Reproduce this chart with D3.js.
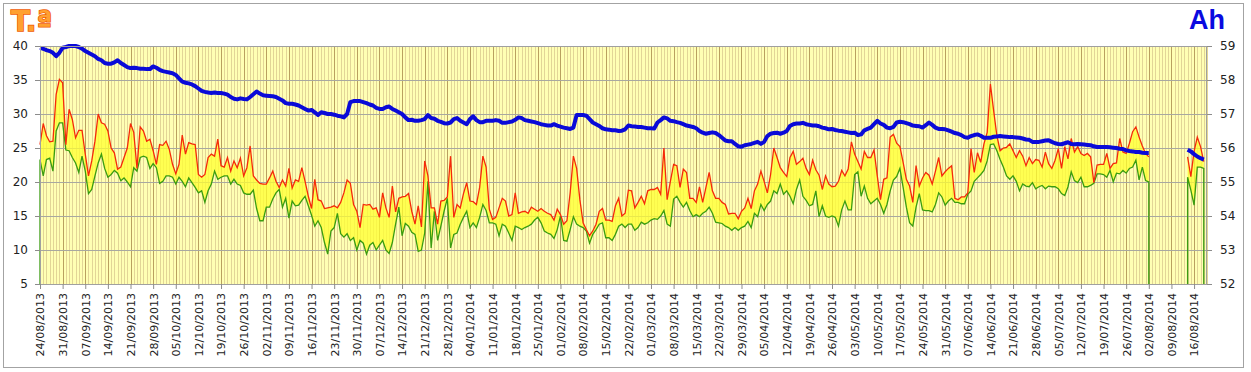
<!DOCTYPE html>
<html>
<head>
<meta charset="utf-8">
<script src="https://cdn.jsdelivr.net/npm/d3@7"></script>
<style>
  body { margin: 0; background: #fff; }
  svg { display: block; }
</style>
</head>
<body>
<svg id="chart"></svg>
<script>
// daily values from 24/08/2013 to 20/08/2014 (null = no reading)
const startDay = new Date(Date.UTC(2013, 7, 24));
const dayCount = 362;

const tMax = [
  25.5, 28.6, 26.8, 25.9, 26.0, 32.9, 35.1, 34.6, 25.5, 30.7,
  29.2, 26.5, 27.6, 27.6, 24.1, 20.9, 23.1, 26.0, 30.0, 28.7,
  28.5, 27.5, 25.0, 24.3, 21.9, 22.2, 23.6, 25.0, 28.6, 27.3,
  22.0, 28.1, 27.5, 26.0, 26.3, 24.6, 22.6, 25.5, 25.4, 26.0,
  24.8, 22.6, 21.2, 22.6, 26.9, 24.1, 25.8, 25.6, 25.5, 21.1,
  20.7, 21.1, 23.6, 24.1, 23.8, 26.3, 22.4, 22.2, 23.6, 21.6,
  23.1, 22.1, 23.5, 20.9, 22.1, 25.3, 20.9, 20.3, 19.8, 19.7,
  19.7, 20.6, 21.6, 20.1, 19.2, 20.3, 19.4, 22.0, 19.1, 20.3,
  20.1, 22.1, 20.1, 17.9, 16.1, 20.4, 17.4, 17.2, 16.1, 16.2,
  16.3, 16.5, 16.2, 17.0, 18.4, 20.3, 19.8, 16.7, 15.7, 13.3,
  16.7, 16.6, 16.7, 16.0, 16.2, 14.8, 18.4, 16.2, 14.8, 19.4,
  15.6, 17.6, 17.8, 17.9, 18.3, 15.7, 13.8, 16.5, 13.4, 23.1,
  20.9, 16.2, 16.2, 13.8, 17.2, 17.3, 17.8, 23.8, 14.8, 16.7,
  16.2, 18.3, 19.9, 17.2, 17.1, 16.7, 19.2, 23.8, 22.2, 16.0,
  14.5, 14.8, 16.2, 17.6, 17.2, 15.0, 15.2, 18.4, 15.4, 15.6,
  15.7, 15.4, 16.3, 16.0, 15.7, 16.1, 15.7, 15.4, 15.2, 14.4,
  16.0, 15.2, 13.8, 14.3, 18.4, 23.8, 22.0, 17.4, 14.0, 13.0,
  12.1, 12.8, 13.8, 15.7, 16.1, 14.4, 14.4, 14.2, 16.5, 17.6,
  15.0, 15.4, 18.8, 18.7, 16.2, 17.0, 17.9, 16.8, 18.7, 18.9,
  18.9, 19.2, 18.2, 25.0, 17.4, 20.1, 22.6, 22.4, 19.2, 21.9,
  21.4, 17.6, 17.6, 17.0, 19.3, 17.0, 19.2, 21.4, 18.7, 17.6,
  17.6, 17.0, 16.7, 15.3, 15.4, 15.4, 14.6, 15.7, 16.2, 17.6,
  16.1, 18.7, 19.7, 21.6, 20.1, 18.4, 21.1, 25.0, 23.6, 22.1,
  21.4, 20.8, 23.6, 24.5, 22.6, 23.0, 23.5, 22.0, 21.1, 23.2,
  21.8, 21.0, 18.9, 20.9, 19.7, 19.3, 19.4, 20.1, 21.7, 20.9,
  21.9, 25.9, 24.1, 23.0, 21.9, 24.5, 23.6, 23.6, 24.7, 20.9,
  17.4, 20.4, 20.6, 26.6, 27.0, 25.7, 25.2, 22.9, 20.4, 19.4,
  17.0, 22.4, 19.4, 20.6, 21.4, 21.0, 19.7, 21.6, 23.6, 20.9,
  21.5, 22.0, 22.4, 17.6, 17.4, 17.8, 17.8, 18.4, 24.9, 21.4,
  24.3, 22.9, 25.6, 27.3, 34.4, 30.5, 26.8, 24.6, 25.0, 25.1,
  25.6, 24.6, 23.6, 24.6, 23.8, 22.4, 23.6, 22.7, 23.3, 23.2,
  22.2, 24.4, 22.7, 22.0, 23.2, 24.9, 22.0, 25.2, 23.4, 26.4,
  24.4, 25.2, 24.2, 23.9, 24.2, 23.7, 19.9, 22.5, 22.6, 22.6,
  24.2, 22.0, 22.7, 22.8, 26.4, 24.4, 24.2, 25.7, 27.4, 28.1,
  26.6, 25.3, 24.2, 23.7,
  null, null, null, null, null, null, null, null, null, null, null,
  23.7, 20.8, 24.5, 26.6, 25.2, 23.0, null
];

const tMin = [
  23.3, 20.9, 23.3, 23.5, 21.6, 27.5, 28.7, 28.7, 24.7, 24.6,
  23.6, 22.8, 21.4, 23.8, 21.6, 18.3, 18.9, 20.9, 22.8, 24.1,
  22.0, 20.7, 21.1, 21.7, 21.3, 20.2, 20.6, 20.0, 19.3, 22.1,
  21.6, 23.6, 23.8, 23.6, 22.0, 22.7, 22.1, 19.8, 20.1, 20.9,
  20.9, 20.7, 19.7, 20.7, 20.1, 19.3, 20.6, 19.9, 19.2, 18.4,
  18.7, 17.0, 18.7, 19.7, 21.6, 20.4, 20.7, 20.9, 20.9, 19.7,
  20.4, 19.7, 19.5, 18.4, 18.2, 18.2, 18.8, 16.1, 14.3, 14.3,
  16.3, 16.3, 17.5, 18.4, 18.9, 16.3, 17.6, 14.7, 17.2, 16.5,
  16.6, 17.3, 17.9, 16.5, 15.1, 13.5, 14.3, 13.3, 11.1, 9.4,
  12.8, 13.3, 15.4, 12.4, 11.9, 12.4, 11.4, 11.8, 10.0, 11.4,
  11.0, 9.4, 10.7, 11.1, 10.0, 10.7, 11.4, 10.0, 9.5, 11.1,
  13.8, 16.3, 12.1, 13.9, 13.5, 12.6, 12.3, 9.8, 10.0, 12.5,
  20.1, 10.3, 15.7, 11.4, 13.5, 15.7, 17.6, 10.3, 12.3, 12.5,
  13.8, 14.8, 15.7, 13.3, 14.0, 13.3, 14.8, 16.7, 15.8, 14.0,
  14.0, 13.8, 12.1, 13.8, 13.5, 12.5, 11.4, 13.5, 13.3, 13.0,
  13.3, 13.5, 13.8, 14.4, 14.8, 14.0, 12.8, 12.5, 12.3, 11.7,
  13.0, 15.0, 11.4, 11.3, 13.0, 14.9, 13.8, 13.5, 13.3, 12.8,
  11.0, 12.3, 13.0, 13.8, 14.0, 11.8, 11.8, 11.4, 12.3, 13.5,
  13.8, 13.3, 13.8, 13.8, 12.9, 13.3, 14.1, 13.8, 14.0, 14.4,
  14.6, 14.5, 15.0, 15.8, 13.8, 13.5, 17.5, 17.9, 17.0, 16.3,
  17.0, 15.8, 14.9, 15.2, 14.9, 15.4, 15.7, 16.3, 15.4, 14.1,
  14.0, 13.9, 13.5, 13.3, 12.9, 13.3, 12.9, 13.3, 13.5, 14.2,
  13.3, 15.4, 14.9, 16.7, 15.8, 16.7, 17.2, 18.7, 18.3, 19.7,
  18.2, 18.7, 17.9, 16.8, 18.9, 20.3, 17.9, 17.3, 16.5, 16.7,
  18.7, 14.9, 16.5, 15.0, 14.8, 15.0, 14.8, 13.5, 15.9, 17.2,
  15.9, 15.9, 21.1, 21.5, 17.9, 19.4, 17.6, 16.8, 17.2, 17.6,
  16.7, 15.4, 16.7, 18.7, 20.3, 20.8, 22.0, 19.2, 16.3, 14.0,
  13.5, 16.3, 18.3, 15.9, 15.8, 15.8, 15.6, 16.7, 18.4, 17.8,
  16.6, 17.2, 17.6, 17.0, 17.0, 16.8, 16.8, 18.2, 18.7, 20.1,
  20.6, 21.1, 21.7, 23.1, 25.5, 25.6, 24.6, 23.3, 22.2, 20.9,
  20.4, 20.9, 20.1, 18.7, 19.7, 19.4, 19.3, 19.9, 19.0, 19.3,
  19.5, 19.0, 19.4, 19.3, 19.3, 19.0, 18.3, 18.0, 19.3, 21.5,
  20.2, 19.9, 20.7, 19.3, 19.3, 19.5, 19.8, 21.2, 21.2, 21.1,
  20.7, 21.7, 20.0, 21.3, 21.2, 21.7, 21.3, 22.0, 22.2, 23.2,
  20.3, 22.2, 20.2, 20.0,
  null, null, null, null, null, null, null, null, null, null, null,
  20.7, 18.8, 16.6, 22.2, 22.2, 22.0, null
];

const humidity = [
  58.95, 58.92, 58.88, 58.85, 58.80, 58.70, 58.80, 58.95, 58.97, 59.00,
  59.00, 59.00, 58.97, 58.92, 58.85, 58.80, 58.75, 58.70, 58.62, 58.58,
  58.50, 58.48, 58.48, 58.52, 58.58, 58.50, 58.44, 58.38, 58.35, 58.36,
  58.35, 58.33, 58.33, 58.32, 58.32, 58.40, 58.36, 58.30, 58.26, 58.24,
  58.22, 58.20, 58.15, 58.05, 57.95, 57.92, 57.90, 57.87, 57.82, 57.75,
  57.68, 57.65, 57.63, 57.62, 57.63, 57.62, 57.62, 57.60, 57.57, 57.50,
  57.45, 57.43, 57.46, 57.44, 57.43, 57.50, 57.58, 57.66, 57.60, 57.55,
  57.54, 57.53, 57.52, 57.50, 57.45, 57.40, 57.32, 57.30, 57.30, 57.28,
  57.25, 57.20, 57.15, 57.10, 57.12, 57.05, 56.97, 57.05, 57.03, 57.00,
  57.00, 56.98, 56.95, 56.93, 56.90, 57.00, 57.35, 57.38, 57.38, 57.38,
  57.35, 57.32, 57.28, 57.25, 57.18, 57.15, 57.15, 57.20, 57.22, 57.15,
  57.10, 57.05, 57.00, 56.90, 56.82, 56.83, 56.80, 56.80, 56.82, 56.85,
  56.97, 56.88, 56.86, 56.80, 56.77, 56.73, 56.72, 56.75, 56.85, 56.88,
  56.80, 56.75, 56.70, 56.85, 56.93, 56.82, 56.76, 56.76, 56.80, 56.80,
  56.80, 56.82, 56.80, 56.74, 56.74, 56.76, 56.78, 56.83, 56.90, 56.88,
  56.82, 56.80, 56.78, 56.76, 56.73, 56.70, 56.68, 56.66, 56.66, 56.70,
  56.66, 56.63, 56.60, 56.58, 56.56, 56.60, 56.97, 56.97, 56.97, 56.95,
  56.85, 56.75, 56.70, 56.65, 56.58, 56.55, 56.54, 56.52, 56.52, 56.50,
  56.51, 56.55, 56.66, 56.64, 56.63, 56.62, 56.62, 56.60, 56.58, 56.58,
  56.57, 56.75, 56.82, 56.90, 56.87, 56.80, 56.79, 56.76, 56.74, 56.70,
  56.66, 56.64, 56.62, 56.58, 56.50, 56.45, 56.42, 56.44, 56.46, 56.44,
  56.38, 56.30, 56.22, 56.20, 56.20, 56.12, 56.05, 56.04, 56.08, 56.10,
  56.12, 56.15, 56.18, 56.12, 56.18, 56.35, 56.42, 56.44, 56.45, 56.42,
  56.45, 56.50, 56.65, 56.70, 56.72, 56.72, 56.74, 56.70, 56.68, 56.66,
  56.66, 56.64, 56.60, 56.58, 56.55, 56.56, 56.53, 56.51, 56.50, 56.48,
  56.46, 56.44, 56.45, 56.38, 56.40, 56.52, 56.56, 56.60, 56.70, 56.80,
  56.72, 56.68, 56.60, 56.58, 56.62, 56.75, 56.77, 56.76, 56.73, 56.70,
  56.66, 56.65, 56.64, 56.60, 56.67, 56.75, 56.68, 56.60, 56.56, 56.56,
  56.55, 56.52, 56.48, 56.44, 56.42, 56.38, 56.32, 56.30, 56.35, 56.38,
  56.40, 56.36, 56.30, 56.30, 56.30, 56.33, 56.34, 56.35, 56.34, 56.33,
  56.32, 56.32, 56.31, 56.30, 56.28, 56.25, 56.24, 56.18, 56.18, 56.18,
  56.20, 56.22, 56.23, 56.18, 56.14, 56.12, 56.11, 56.14, 56.17, 56.12,
  56.11, 56.12, 56.11, 56.10, 56.09, 56.08, 56.05, 56.03, 56.03, 56.03,
  56.03, 56.02, 56.01, 56.00, 55.98, 55.97, 55.93, 55.91, 55.90, 55.88,
  55.88, 55.86, 55.85, 55.85,
  null, null, null, null, null, null, null, null, null, null, null,
  55.95, 55.90, 55.82, 55.75, 55.70, 55.66, null
];

const tempTicks = [5, 10, 15, 20, 25, 30, 35, 40];
const humTicks = [52, 53, 54, 55, 56, 57, 58, 59];

// layout
const width = 1251, height = 372;
const plot = { left: 40, right: 1207, top: 46, bottom: 284 };

const svg = d3.select("#chart")
  .attr("width", width)
  .attr("height", height)
  .style("font-family", "'DejaVu Sans', Verdana, sans-serif");

const days = d3.range(dayCount).map(i => d3.utcDay.offset(startDay, i));
const rows = days.map((date, i) => ({ date, hi: tMax[i], lo: tMin[i], ah: humidity[i] }));

const x = d3.scaleUtc()
  .domain([days[0], days[dayCount - 1]])
  .range([plot.left, plot.right]);
const yT = d3.scaleLinear().domain([5, 40]).range([plot.bottom, plot.top]);
const yH = d3.scaleLinear().domain([52, 59]).range([plot.bottom, plot.top]);

const weekDays = days.filter((d, i) => i % 7 === 0);

// outer frame
svg.append("rect")
  .attr("x", 3.5).attr("y", 3.5)
  .attr("width", 1240).attr("height", 364)
  .attr("fill", "#fff")
  .attr("stroke", "#a3a3a3");

// plot background
svg.append("rect")
  .attr("x", plot.left).attr("y", plot.top)
  .attr("width", plot.right - plot.left)
  .attr("height", plot.bottom - plot.top)
  .attr("fill", "#ffffb4");

// daily grid lines
svg.append("g")
  .selectAll("line")
  .data(days)
  .join("line")
  .attr("x1", d => Math.round(x(d)) + 0.5)
  .attr("x2", d => Math.round(x(d)) + 0.5)
  .attr("y1", plot.top).attr("y2", plot.bottom)
  .attr("stroke", "#e2d597")
  .attr("stroke-width", 1);

// weekly grid lines
svg.append("g")
  .selectAll("line")
  .data(weekDays)
  .join("line")
  .attr("x1", d => Math.round(x(d)) + 0.5)
  .attr("x2", d => Math.round(x(d)) + 0.5)
  .attr("y1", plot.top).attr("y2", plot.bottom)
  .attr("stroke", "#b9a060")
  .attr("stroke-width", 1);

// horizontal grid lines
svg.append("g")
  .selectAll("line")
  .data(tempTicks)
  .join("line")
  .attr("x1", plot.left).attr("x2", plot.right)
  .attr("y1", d => Math.round(yT(d)) + 0.5)
  .attr("y2", d => Math.round(yT(d)) + 0.5)
  .attr("stroke", "#a8a8a0");

// band between min and max
const band = d3.area()
  .defined(d => d.hi != null && d.lo != null)
  .x(d => x(d.date))
  .y0(d => yT(d.lo))
  .y1(d => yT(d.hi));

svg.append("path")
  .datum(rows)
  .attr("d", band)
  .attr("fill", "#ffff30")
  .attr("fill-opacity", 0.75);

// min line, dropped to the base at both ends of every run of readings
const segments = [];
let current = null;
rows.forEach(r => {
  if (r.lo != null) {
    if (!current) { current = []; segments.push(current); }
    current.push(r);
  } else {
    current = null;
  }
});

const minLine = d3.line()
  .x(d => x(d.date))
  .y(d => yT(d.v));

svg.append("g")
  .selectAll("path")
  .data(segments)
  .join("path")
  .attr("d", seg => minLine([
    { date: seg[0].date, v: 5 },
    ...seg.map(r => ({ date: r.date, v: r.lo })),
    { date: seg[seg.length - 1].date, v: 5 }
  ]))
  .attr("fill", "none")
  .attr("stroke", "#3a9c10")
  .attr("stroke-width", 1.3);

// max line
svg.append("path")
  .datum(rows)
  .attr("d", d3.line()
    .defined(d => d.hi != null)
    .x(d => x(d.date))
    .y(d => yT(d.hi)))
  .attr("fill", "none")
  .attr("stroke", "#f52a0a")
  .attr("stroke-width", 1.3);

// humidity line
svg.append("path")
  .datum(rows)
  .attr("d", d3.line()
    .defined(d => d.ah != null)
    .x(d => x(d.date))
    .y(d => yH(d.ah)))
  .attr("fill", "none")
  .attr("stroke", "#0a0ad8")
  .attr("stroke-width", 4)
  .attr("stroke-linejoin", "round");

// plot border
svg.append("rect")
  .attr("x", plot.left + 0.5).attr("y", plot.top + 0.5)
  .attr("width", plot.right - plot.left - 1)
  .attr("height", plot.bottom - plot.top)
  .attr("fill", "none")
  .attr("stroke", "#a0a0a0");

// axes
const leftAxis = svg.append("g")
  .attr("transform", `translate(${plot.left},0)`)
  .call(d3.axisLeft(yT).tickValues(tempTicks).tickSize(5).tickPadding(7));

const rightAxis = svg.append("g")
  .attr("transform", `translate(${plot.right},0)`)
  .call(d3.axisRight(yH).tickValues(humTicks).tickFormat(d3.format("d")).tickSize(5).tickPadding(8));

const bottomAxis = svg.append("g")
  .attr("transform", `translate(0,${plot.bottom})`)
  .call(d3.axisBottom(x).tickValues(weekDays).tickFormat(d3.utcFormat("%d/%m/%Y")).tickSize(5));

bottomAxis.selectAll("text")
  .attr("transform", "rotate(-90)")
  .attr("x", -9)
  .attr("y", 0)
  .attr("dy", "0.35em")
  .style("text-anchor", "end")
  .style("font-size", "11px");

[leftAxis, rightAxis, bottomAxis].forEach(g => {
  g.select(".domain").remove();
  g.selectAll(".tick line").attr("stroke", "#8c8c8c");
  g.selectAll("text").attr("fill", "#222").style("font-family", "'DejaVu Sans', Verdana, sans-serif");
});
leftAxis.selectAll("text").style("font-size", "12px");
rightAxis.selectAll("text").style("font-size", "12px");

// titles
svg.append("text")
  .attr("x", 11).attr("y", 31)
  .text("T.ª")
  .style("font-family", "'DejaVu Sans', Verdana, sans-serif")
  .style("font-weight", "bold")
  .style("font-size", "28px")
  .attr("fill", "#ffa030")
  .attr("stroke", "#f05a00")
  .attr("stroke-width", 1.5)
  .attr("paint-order", "stroke");

svg.append("text")
  .attr("x", 1225).attr("y", 29)
  .attr("text-anchor", "end")
  .text("Ah")
  .style("font-family", "'Liberation Sans', Arial, sans-serif")
  .style("font-weight", "bold")
  .style("font-size", "27px")
  .attr("fill", "#0a0ae0");
</script>
</body>
</html>
